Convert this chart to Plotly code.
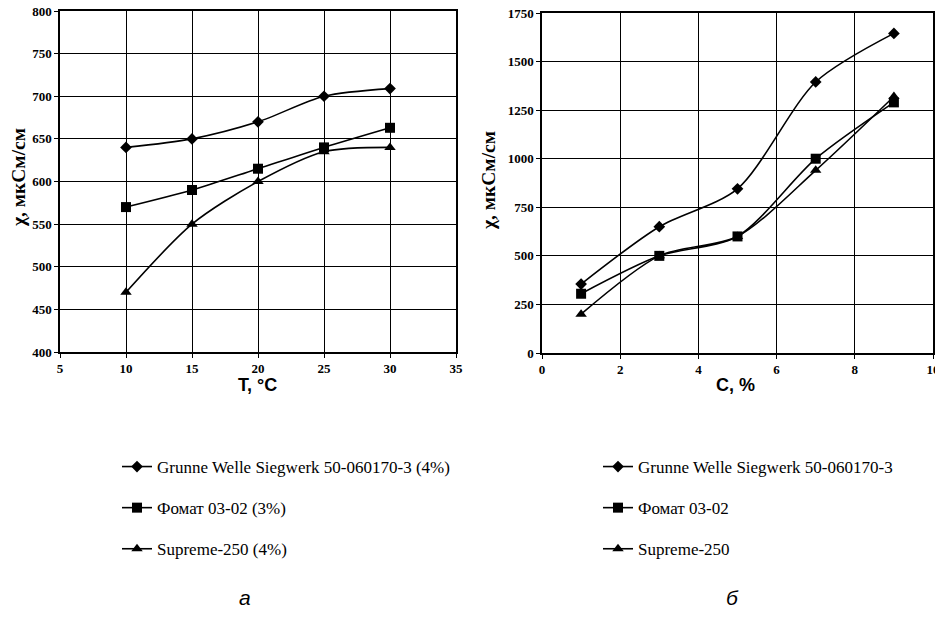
import plotly.graph_objects as go

# ---- data ----
t_vals = [10, 15, 20, 25, 30]
t_grunne = [640, 650, 670, 700, 709]
t_fomat = [570, 590, 615, 640, 663]
t_supreme = [470, 550, 600, 635, 640]

c_vals = [1, 3, 5, 7, 9]
c_grunne = [355, 650, 845, 1395, 1645]
c_fomat = [305, 500, 600, 1000, 1290]
c_supreme = [200, 500, 600, 940, 1320]

names_a = ["Grunne Welle Siegwerk 50-060170-3 (4%)", "Фомат 03-02 (3%)", "Supreme-250 (4%)"]
names_b = ["Grunne Welle Siegwerk 50-060170-3", "Фомат 03-02", "Supreme-250"]
symbols = ["diamond", "square", "triangle-up"]
msizes = [9, 10, 10]

W, H = 943, 625
OFF = 8  # page body margin
fig = go.Figure()

def px(x):
    return (x - OFF) / W

def py(y):
    return 1 - (y - OFF) / H

for i, ys in enumerate([t_grunne, t_fomat, t_supreme]):
    fig.add_trace(go.Scatter(
        x=t_vals, y=ys, name=names_a[i], mode="lines+markers",
        line=dict(color="black", width=1.6, shape="spline", smoothing=0.8),
        marker=dict(symbol=symbols[i], size=msizes[i], color="black"),
        xaxis="x", yaxis="y", legend="legend", legendgroup="a%d" % i))

for i, ys in enumerate([c_grunne, c_fomat, c_supreme]):
    fig.add_trace(go.Scatter(
        x=c_vals, y=ys, name=names_b[i], mode="lines+markers",
        line=dict(color="black", width=1.6, shape="spline", smoothing=0.8),
        marker=dict(symbol=symbols[i], size=msizes[i], color="black"),
        xaxis="x2", yaxis="y2", legend="legend2", legendgroup="b%d" % i))

tickfont = dict(family="Liberation Serif", size=13, color="black", weight="bold")
axcommon = dict(showgrid=True, gridcolor="black", gridwidth=1.3, showline=True,
                linecolor="black", linewidth=1.5, mirror=True, ticks="outside",
                ticklen=4, tickcolor="black", tickfont=tickfont, zeroline=False,
                automargin=False, ticklabeloverflow="allow")

legfont = dict(family="Liberation Serif", size=17, color="black")

fig.update_layout(
    width=W, height=H, plot_bgcolor="white", paper_bgcolor="white",
    template="none",
    margin=dict(l=0, r=0, t=0, b=0, pad=0),
    xaxis=dict(domain=[px(60), px(456)], range=[5, 35], dtick=5, anchor="y", **axcommon),
    yaxis=dict(domain=[py(352), py(11)], range=[400, 800], dtick=50, anchor="x", **axcommon),
    xaxis2=dict(domain=[px(542), px(933)], range=[0, 10], dtick=2, anchor="y2", **axcommon),
    yaxis2=dict(domain=[py(353), py(13)], range=[0, 1750], dtick=250, anchor="x2", **axcommon),
    legend=dict(x=px(117), y=py(449), xanchor="left", yanchor="top", tracegroupgap=16,
                font=legfont, itemwidth=30, bgcolor="rgba(0,0,0,0)"),
    legend2=dict(x=px(598), y=py(449), xanchor="left", yanchor="top", tracegroupgap=16,
                 font=legfont, itemwidth=30, bgcolor="rgba(0,0,0,0)"),
    showlegend=True,
)

ann = [
    dict(text="T, °C", x=px(257), y=py(385), font=dict(family="Liberation Sans", size=18, color="black", weight="bold")),
    dict(text="C, %", x=px(735), y=py(385), font=dict(family="Liberation Sans", size=18, color="black", weight="bold")),
    dict(text="χ, мкСм/см", x=px(18), y=py(178), textangle=-90,
         font=dict(family="Liberation Serif", size=19.5, color="black", weight="bold")),
    dict(text="χ, мкСм/см", x=px(488), y=py(180), textangle=-90,
         font=dict(family="Liberation Serif", size=19.5, color="black", weight="bold")),
    dict(text="<i>а</i>", x=px(245), y=py(597), font=dict(family="Liberation Sans", size=21, color="black")),
    dict(text="<i>б</i>", x=px(732), y=py(597), font=dict(family="Liberation Sans", size=21, color="black")),
]
for a in ann:
    fig.add_annotation(xref="paper", yref="paper", showarrow=False, xanchor="center", yanchor="middle", **a)

fig.write_html("out.html")
